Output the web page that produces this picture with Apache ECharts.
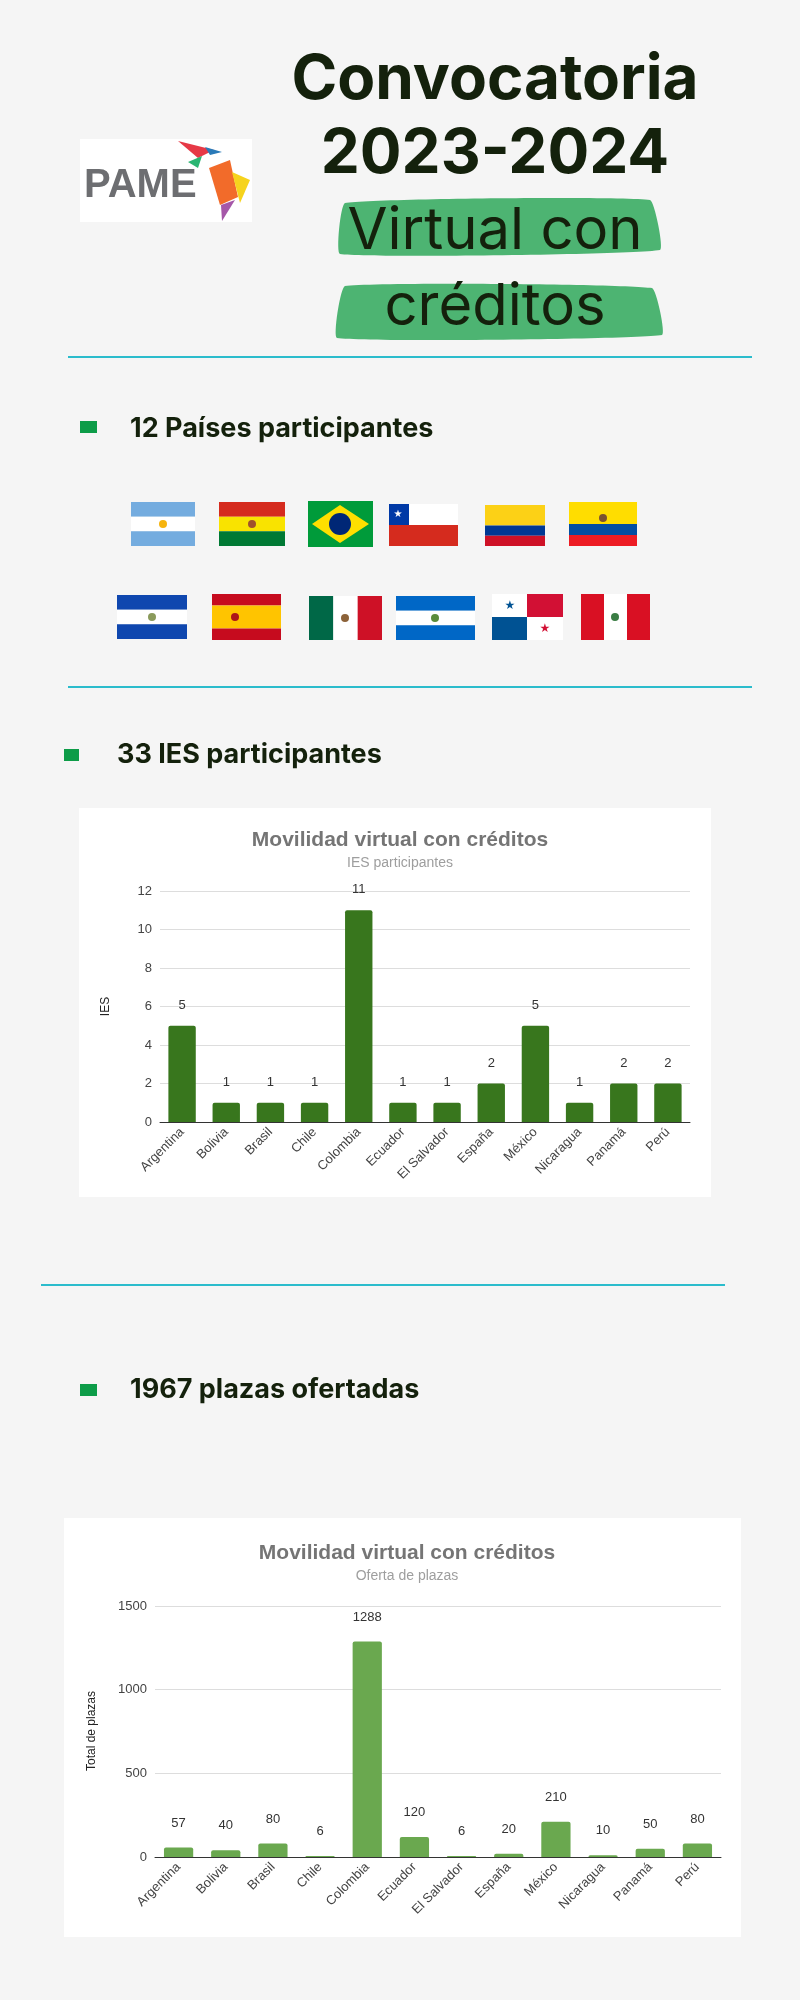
<!DOCTYPE html>
<html>
<head>
<meta charset="utf-8">
<script src="https://cdn.jsdelivr.net/npm/echarts@6/dist/echarts.min.js"></script>
<style>
  body{margin:0;background:#f5f5f5;}
  #main{width:800px;height:2000px;}
</style>
</head>
<body>
<div id="main"></div>
<script>
// datos
var paises = ['Argentina','Bolivia','Brasil','Chile','Colombia','Ecuador','El Salvador','España','México','Nicaragua','Panamá','Perú'];
var iesValores = [5,1,1,1,11,1,1,2,5,1,2,2];
var plazasValores = [57,40,80,6,1288,120,6,20,210,10,50,80];
var iesTicks = [0,2,4,6,8,10,12];
var plazasTicks = [0,500,1000,1500];

var chart = echarts.init(document.getElementById('main'));

// banderas (decoracion)
function stripesH(x,y,w,h,cols,ratios){
    var out=[], yy=y, tot=ratios.reduce(function(a,b){return a+b;},0);
    for(var k=0;k<cols.length;k++){
        var hh=h*ratios[k]/tot;
        out.push({type:'rect',shape:{x:x,y:yy,width:w,height:hh},style:{fill:cols[k]}});
        yy+=hh;
    }
    return out;
}
function stripesV(x,y,w,h,cols){
    var out=[], ww=w/cols.length;
    for(var k=0;k<cols.length;k++){
        out.push({type:'rect',shape:{x:x+ww*k,y:y,width:ww,height:h},style:{fill:cols[k]}});
    }
    return out;
}
function emblem(x,y,c){ return {type:'circle',shape:{cx:x,cy:y,r:4},style:{fill:c}}; }

var flags=[];
// fila 1
flags=flags.concat(stripesH(131,502,64,44,['#74acdf','#ffffff','#74acdf'],[1,1,1]),[emblem(163,524,'#f6b40e')]);
flags=flags.concat(stripesH(219,502,66,44,['#d52b1e','#f9e300','#007934'],[1,1,1]),[emblem(252,524,'#a0522d')]);
flags=flags.concat([{type:'rect',shape:{x:308,y:501,width:65,height:46},style:{fill:'#009b3a'}},
    {type:'polygon',shape:{points:[[312,524],[340,505],[369,524],[340,543]]},style:{fill:'#fedf00'}},
    {type:'circle',shape:{cx:340,cy:524,r:11},style:{fill:'#002776'}}]);
flags=flags.concat(stripesH(389,504,69,42,['#ffffff','#d52b1e'],[1,1]),
    [{type:'rect',shape:{x:389,y:504,width:20,height:21},style:{fill:'#0039a6'}}]);
flags=flags.concat(stripesH(485,505,60,41,['#fcd116','#003893','#ce1126'],[2,1,1]));
flags=flags.concat(stripesH(569,502,68,44,['#ffdd00','#034ea2','#ed1c24'],[2,1,1]),[emblem(603,518,'#7a5230')]);
// fila 2
flags=flags.concat(stripesH(117,595,70,44,['#0f47af','#ffffff','#0f47af'],[1,1,1]),[emblem(152,617,'#8a9a5b')]);
flags=flags.concat(stripesH(212,594,69,46,['#c60b1e','#ffc400','#c60b1e'],[1,2,1]),[emblem(235,617,'#ad1519')]);
flags=flags.concat(stripesV(309,596,73,44,['#006847','#ffffff','#ce1126']),[emblem(345,618,'#8c6239')]);
flags=flags.concat(stripesH(396,596,79,44,['#0067c6','#ffffff','#0067c6'],[1,1,1]),[emblem(435,618,'#5b8c3a')]);
flags=flags.concat([{type:'rect',shape:{x:492,y:594,width:71,height:46},style:{fill:'#ffffff'}},
    {type:'rect',shape:{x:527,y:594,width:36,height:23},style:{fill:'#d21034'}},
    {type:'rect',shape:{x:492,y:617,width:35,height:23},style:{fill:'#005293'}},
    {type:'text',style:{x:510,y:606,text:'★',fill:'#005293',font:'12px DejaVu Sans',align:'center',verticalAlign:'middle'}},
    {type:'text',style:{x:545,y:629,text:'★',fill:'#d21034',font:'12px DejaVu Sans',align:'center',verticalAlign:'middle'}}]);
flags=flags.concat(stripesV(581,594,69,46,['#d91023','#ffffff','#d91023']),[emblem(615,617,'#3a7d44')]);
flags=flags.concat([{type:'text',style:{x:398,y:514,text:'★',fill:'#ffffff',font:'10px DejaVu Sans',align:'center',verticalAlign:'middle'}}]);

var graphics = [
    // logo
    {type:'rect',shape:{x:80,y:139,width:172,height:83},style:{fill:'#ffffff'}},
    {type:'text',style:{x:84,y:186,text:'PAME',fill:'#6d6e71',font:'bold 40px "Liberation Sans"',verticalAlign:'middle'}},
    {type:'polygon',shape:{points:[[178,141],[214,150],[198,158]]},style:{fill:'#e63946'}},
    {type:'polygon',shape:{points:[[209,168],[230,160],[238,197],[220,205]]},style:{fill:'#f26b2a'}},
    {type:'polygon',shape:{points:[[232,172],[250,180],[240,203]]},style:{fill:'#f6d31d'}},
    {type:'polygon',shape:{points:[[221,205],[235,200],[222,221]]},style:{fill:'#a557a8'}},
    {type:'polygon',shape:{points:[[188,162],[202,156],[198,168]]},style:{fill:'#2bb673'}},
    {type:'polygon',shape:{points:[[205,147],[222,152],[210,155]]},style:{fill:'#2a7ab8'}},
    // subrayados verdes
    {type:'polygon',shape:{points:[[345,203],[650,200],[660,250],[340,254]],smooth:0.1},style:{fill:'#2fa85a',opacity:0.85}},
    {type:'polygon',shape:{points:[[345,286],[652,288],[662,335],[337,338]],smooth:0.1},style:{fill:'#2fa85a',opacity:0.85}},
    // titulos
    {type:'text',style:{x:495,y:80,text:'Convocatoria',fill:'#14210c',font:'bold 62px Inter',align:'center',verticalAlign:'middle'}},
    {type:'text',style:{x:495,y:154,text:'2023-2024',fill:'#14210c',font:'bold 62px Inter',align:'center',verticalAlign:'middle'}},
    {type:'text',style:{x:495,y:232,text:'Virtual con',fill:'#14210c',font:'58px Inter',align:'center',verticalAlign:'middle'}},
    {type:'text',style:{x:495,y:308,text:'créditos',fill:'#14210c',font:'58px Inter',align:'center',verticalAlign:'middle'}},
    // lineas
    {type:'rect',shape:{x:68,y:356,width:684,height:2},style:{fill:'#2bbccc'}},
    {type:'rect',shape:{x:68,y:686,width:684,height:2},style:{fill:'#2bbccc'}},
    {type:'rect',shape:{x:41,y:1284,width:684,height:2},style:{fill:'#2bbccc'}},
    // secciones
    {type:'rect',shape:{x:80,y:421,width:17,height:12},style:{fill:'#0d9c48'}},
    {type:'text',style:{x:130,y:429,text:'12 Países participantes',fill:'#14210c',font:'bold 27px Inter',verticalAlign:'middle'}},
    {type:'rect',shape:{x:64,y:749,width:15,height:12},style:{fill:'#0d9c48'}},
    {type:'text',style:{x:117,y:755,text:'33 IES participantes',fill:'#14210c',font:'bold 27px Inter',verticalAlign:'middle'}},
    {type:'rect',shape:{x:80,y:1384,width:17,height:12},style:{fill:'#0d9c48'}},
    {type:'text',style:{x:130,y:1390,text:'1967 plazas ofertadas',fill:'#14210c',font:'bold 27px Inter',verticalAlign:'middle'}},
    // titulo eje y del segundo grafico
    {type:'text',x:92,y:1731,rotation:Math.PI/2,style:{x:0,y:0,text:'Total de plazas',fill:'#222',font:'12px "Liberation Sans"',align:'center',verticalAlign:'middle'}},
    // tarjetas de graficos
    {type:'rect',z:-10,shape:{x:79,y:808,width:632,height:389},style:{fill:'#ffffff'}},
    {type:'rect',z:-10,shape:{x:64,y:1518,width:677,height:419},style:{fill:'#ffffff'}}
].concat(flags);

var labelFont = {fontFamily:'Liberation Sans',fontSize:13,color:'#444'};

chart.setOption({
    backgroundColor:'#f5f5f5',
    animation:false,
    title:[
        {text:'Movilidad virtual con créditos',subtext:'IES participantes',left:395,top:825,textAlign:'center',itemGap:5,
         textStyle:{fontFamily:'Liberation Sans',fontSize:21,fontWeight:'bold',color:'#757575'},
         subtextStyle:{fontFamily:'Liberation Sans',fontSize:14,color:'#9e9e9e'}},
        {text:'Movilidad virtual con créditos',subtext:'Oferta de plazas',left:402,top:1538,textAlign:'center',itemGap:5,
         textStyle:{fontFamily:'Liberation Sans',fontSize:21,fontWeight:'bold',color:'#757575'},
         subtextStyle:{fontFamily:'Liberation Sans',fontSize:14,color:'#9e9e9e'}}
    ],
    grid:[
        {left:160,right:110,top:891,height:231},
        {left:155,right:79,top:1606,height:251}
    ],
    xAxis:[
        {gridIndex:0,type:'category',data:paises,axisTick:{show:false},
         axisLine:{lineStyle:{color:'#333'}},axisLabel:Object.assign({rotate:45,interval:0},labelFont)},
        {gridIndex:1,type:'category',data:paises,axisTick:{show:false},
         axisLine:{lineStyle:{color:'#333'}},axisLabel:Object.assign({rotate:45,interval:0},labelFont)}
    ],
    yAxis:[
        {gridIndex:0,type:'value',min:iesTicks[0],max:iesTicks[iesTicks.length-1],interval:iesTicks[1]-iesTicks[0],
         name:'IES',nameLocation:'middle',nameGap:48,nameTextStyle:{fontFamily:'Liberation Sans',fontSize:12,color:'#222'},
         axisLabel:labelFont,splitLine:{lineStyle:{color:'#dddddd'}}},
        {gridIndex:1,type:'value',min:plazasTicks[0],max:plazasTicks[plazasTicks.length-1],interval:plazasTicks[1]-plazasTicks[0],
         axisLabel:Object.assign({formatter:function(v){return String(v);}},labelFont),splitLine:{lineStyle:{color:'#dddddd'}}}
    ],
    series:[
        {type:'bar',xAxisIndex:0,yAxisIndex:0,data:iesValores,barWidth:'62%',
         itemStyle:{color:'#38761d',borderRadius:[2,2,0,0]},
         label:{show:true,position:'top',distance:14,fontFamily:'Liberation Sans',fontSize:13,color:'#333'}},
        {type:'bar',xAxisIndex:1,yAxisIndex:1,data:plazasValores,barWidth:'62%',
         itemStyle:{color:'#6aa84f',borderRadius:[2,2,0,0]},
         label:{show:true,position:'top',distance:18,fontFamily:'Liberation Sans',fontSize:13,color:'#333'}}
    ],
    graphic:graphics
});
</script>
</body>
</html>
